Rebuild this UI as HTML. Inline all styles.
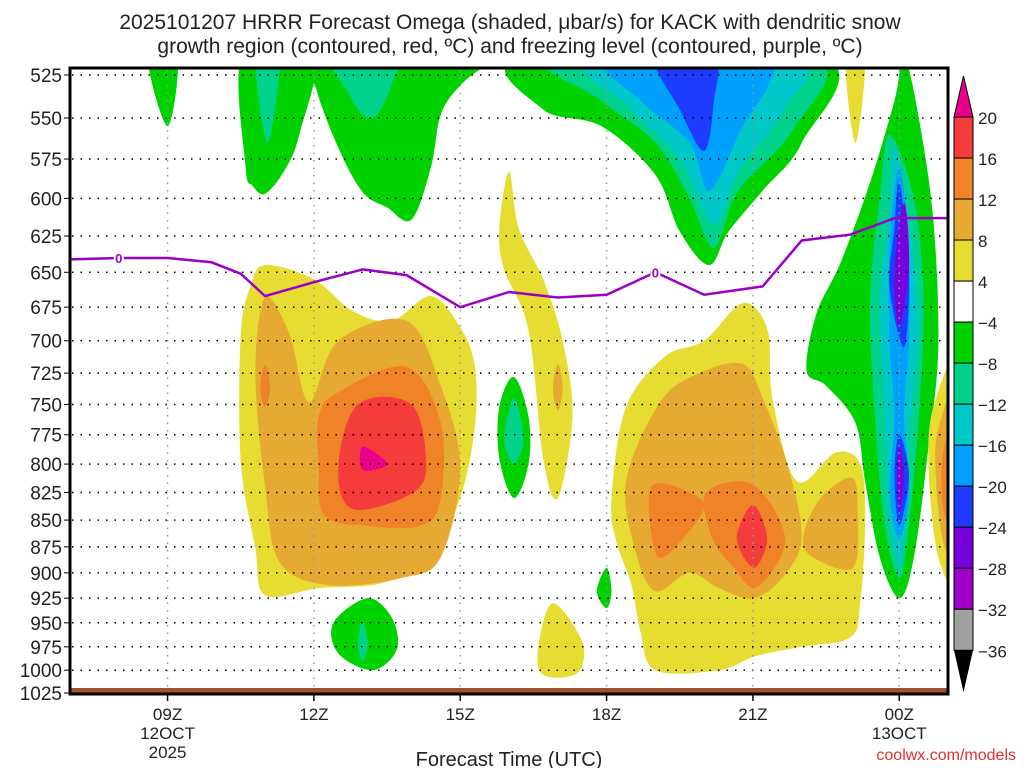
<!DOCTYPE html>
<html><head><meta charset="utf-8"><style>
body{margin:0;background:#fff;}
svg text{font-family:"Liberation Sans",sans-serif;}
</style></head><body>
<svg id="c" width="1024" height="768" xmlns="http://www.w3.org/2000/svg">
<rect width="1024" height="768" fill="#fff"/>
<text x="510" y="29" font-size="21" text-anchor="middle" fill="#222">2025101207 HRRR Forecast Omega (shaded, μbar/s) for KACK with dendritic snow</text>
<text x="510" y="53" font-size="21" text-anchor="middle" fill="#222">growth region (contoured, red, ºC) and freezing level (contoured, purple, ºC)</text>
<defs><clipPath id="pc"><rect x="70" y="68" width="878" height="626"/></clipPath></defs>
<g id="fills" clip-path="url(#pc)"></g>
<g id="grid"></g>
<g id="frz" clip-path="url(#pc)"></g>
<rect x="70" y="688" width="878" height="6" fill="#a0522d"/>
<rect x="70" y="68" width="878" height="626" fill="none" stroke="#000" stroke-width="3"/>
<g id="axes"></g>
<g id="cbar"></g>
<text x="509" y="766" font-size="20" text-anchor="middle" fill="#222">Forecast Time (UTC)</text>
<text x="1016" y="760" font-size="16" text-anchor="end" fill="#e03030">coolwx.com/models</text>
</svg>
<script>
const pLevels=[525,550,575,600,625,650,675,700,725,750,775,800,825,850,875,900,925,950,975,1000,1025];
const xTicks=[9,12,15,18,21,24];
const xTickLabels=[["09Z","12OCT","2025"],["12Z"],["15Z"],["18Z"],["21Z"],["00Z","13OCT"]];
const cbLabels=["20","16","12","8","4","−4","−8","−12","−16","−20","−24","−28","−32","−36"];
const cbColors=["#f53c3c","#f08228","#e6aa32","#e6dc32","#ffffff","#00d200","#00d28c","#00c8c8","#00a0ff","#1e3cff","#7800dc","#a000c8","#a0a0a0"];
const C={y:"#e6dc32",a:"#e6aa32",o:"#f08228",r:"#f53c3c",p:"#e8008a",g:"#00d200",t:"#00d28c",c:"#00c8c8",b:"#00a0ff",d:"#1e3cff",v:"#7800dc",m:"#a000c8"};
const frzHours=[7,8,9,9.9,10.5,11,12,13,13.9,15,16,17,18,19,20,21.2,22,23,23.9,25];
const frzPres=[641,640,640,643,651,667,657,648,652,675,664,668,666,650,666,660,628,624,613,613];
const frzLabelHours=[8,19];
const blobs=[
["g",[[8.6,515],[9.2,515],[9,555]]],
["g",[[10.55,512],[10.6,580],[10.75,592],[11,597],[11.4,582],[11.7,560],[12,512]]],
["g",[[12,512],[12.05,533],[12.5,568],[13,596],[13.5,606],[14,614],[14.4,580],[14.6,548],[15,531],[15.5,520],[16,512]]],
["t",[[10.8,512],[11.3,512],[11.05,565]]],
["t",[[12.3,512],[13.7,512],[13.6,530],[13.3,548],[13.0,548],[12.7,535]]],
["g",[[16.3,515],[16.7,545],[17.9,555],[19,585],[19.5,622],[20.1,645],[20.5,622],[21.2,595],[22,565],[22.4,515]]],
["t",[[16.9,515],[17.9,540],[19,565],[19.7,600],[20.2,633],[20.7,595],[21.8,558],[22.2,515]]],
["c",[[17.6,515],[18.5,545],[19.5,575],[20.2,617],[20.7,583],[21.6,547],[21.9,515]]],
["b",[[18,515],[18.7,540],[19.7,565],[20.1,595],[20.7,560],[21.3,515]]],
["d",[[19,515],[19.5,545],[20,570],[20.2,540],[20.2,515]]],
["y",[[22.9,515],[23.3,515],[23.1,565]]],
["y",[[11,645],[12,655],[12.8,678],[13.6,685],[14.4,667],[15,690],[15.3,720],[15.3,768],[15,830],[14.4,885],[13.4,910],[12.1,915],[11,922],[10.8,877],[10.5,797],[10.5,696],[10.7,660]]],
["a",[[11,668],[11.5,695],[11.9,748],[12.5,700],[13.9,685],[14.6,735],[15,803],[14.6,885],[13.8,905],[12.3,912],[11.3,890],[11,820],[10.8,725]]],
["o",[[12.1,760],[12.5,740],[13.9,720],[14.6,765],[14.6,830],[14.2,855],[13,855],[12.2,845],[12.1,802]]],
["o",[[11,718],[11.1,737],[11,752],[10.9,737]]],
["r",[[12.9,750],[14,750],[14.3,800],[14,826],[12.8,840],[12.5,803]]],
["p",[[13,785],[13.5,800],[13,805]]],
["y",[[16,583],[16.2,620],[16.7,655],[17.1,700],[17.3,760],[17,830],[16.7,795],[16.4,692],[15.9,648],[15.8,620]]],
["a",[[17,718],[17.1,737],[17,755],[16.9,737]]],
["g",[[16.1,728],[16.4,760],[16.4,800],[16.1,830],[15.8,795],[15.8,752]]],
["t",[[16.1,745],[16.3,778],[16.1,800],[15.9,778]]],
["g",[[18,895],[18.1,918],[18,935],[17.8,918]]],
["g",[[13.1,925],[13.6,945],[13.7,978],[13.2,1000],[12.5,982],[12.4,950]]],
["t",[[13,948],[13.1,972],[13,990],[12.9,972]]],
["y",[[16.9,930],[17.5,970],[17.4,1003],[16.7,1005],[16.6,975]]],
["y",[[18.1,830],[18.4,752],[19.2,712],[20,700],[20.8,672],[21.3,692],[21.4,745],[21.9,815],[22.7,790],[23.2,800],[23.3,850],[23.2,930],[23.0,965],[22,975],[21.05,985],[20.3,1000],[19,1000],[18.7,960],[18.5,910],[18.2,870]]],
["a",[[18.4,815],[19.1,748],[19.9,725],[20.8,718],[21.2,745],[21.7,800],[22,866],[21.6,905],[21.0,925],[20.3,915],[19.7,900],[19.0,918],[18.6,880]]],
["a",[[22.03,866],[22.37,831],[23.03,812],[23.15,844],[23.05,895],[22.23,885]]],
["o",[[18.93,819],[19.98,834],[19.55,868],[19.03,883]]],
["o",[[20.04,825],[21,818],[21.66,868],[21.08,914],[20.59,894],[20.16,866]]],
["r",[[21,836],[21.29,867],[21.02,895],[20.67,867]]],
["g",[[22.1,723],[22.3,680],[22.8,643],[23.4,590],[23.9,540],[24.1,515],[24.4,550],[24.7,615],[24.8,705],[24.6,785],[24.3,885],[24,925],[23.6,885],[23.3,815],[23.1,765],[22.5,735]]],
["t",[[23.8,560],[24.3,600],[24.5,670],[24.4,760],[24.2,855],[24,905],[23.7,855],[23.5,760],[23.4,670],[23.6,600]]],
["c",[[23.9,567],[24.2,615],[24.4,688],[24.2,775],[24.1,862],[24,895],[23.8,847],[23.7,760],[23.6,670],[23.8,610]]],
["b",[[24,580],[24.2,632],[24.2,700],[24.1,760],[24.2,825],[24,867],[23.8,825],[23.9,760],[23.8,700],[23.8,632]]],
["d",[[24,590],[24.2,648],[24.1,705],[23.8,660],[23.9,620]]],
["v",[[24.1,603],[24.2,645],[24,690],[23.9,650]]],
["d",[[24,775],[24.2,810],[24,855],[23.9,810]]],
["v",[[24,785],[24.1,810],[24,842],[23.95,810]]],
["y",[[25.2,720],[24.7,752],[24.6,803],[24.8,885],[25.2,900]]],
["a",[[25.2,740],[24.8,770],[24.75,810],[24.9,870],[25.2,880]]],
["o",[[25.2,760],[24.9,790],[24.9,840],[25.2,860]]],
["r",[[25.2,775],[25,805],[25.2,840]]]
];
const NS="http://www.w3.org/2000/svg";
const X=h=>70+(h-7)*48.78;
const Y=p=>75+Math.log(p/525)/Math.log(1025/525)*618;
function mk(t,a,par){const e=document.createElementNS(NS,t);for(const k in a)e.setAttribute(k,a[k]);par.appendChild(e);return e;}
function smooth(pts){const n=pts.length;let d="M"+pts[0][0]+","+pts[0][1];
for(let i=0;i<n;i++){const p0=pts[(i-1+n)%n],p1=pts[i],p2=pts[(i+1)%n],p3=pts[(i+2)%n];
const c1=[p1[0]+(p2[0]-p0[0])/6,p1[1]+(p2[1]-p0[1])/6],c2=[p2[0]-(p3[0]-p1[0])/6,p2[1]-(p3[1]-p1[1])/6];
d+="C"+c1[0].toFixed(1)+","+c1[1].toFixed(1)+" "+c2[0].toFixed(1)+","+c2[1].toFixed(1)+" "+p2[0].toFixed(1)+","+p2[1].toFixed(1);}
return d+"Z";}
const F=document.getElementById("fills");
blobs.forEach((b,i)=>{const pts=b[1].map(q=>[X(q[0]),Y(q[1])]);
const el=mk("path",{d:smooth(pts),fill:C[b[0]]},F);

});
const G=document.getElementById("grid"),A=document.getElementById("axes");
pLevels.forEach(p=>{const y=Y(p);
const l=mk("line",{x1:72,x2:946,y1:y,y2:y,stroke:"#000","stroke-width":1.5,"stroke-dasharray":"1.5 7"},G);


const t=mk("text",{x:62,y:y+7,"font-size":19,"text-anchor":"end",fill:"#222"},A);t.textContent=p;


mk("line",{x1:64,x2:70,y1:y,y2:y,stroke:"#000","stroke-width":1},A);});
xTicks.forEach((h,i)=>{const x=X(h);
const l=mk("line",{x1:x,x2:x,y1:70,y2:692,stroke:"#999","stroke-width":1.5,"stroke-dasharray":"1.5 6"},G);


mk("line",{x1:x,x2:x,y1:694,y2:701,stroke:"#000","stroke-width":1.5},A);
xTickLabels[i].forEach((s,j)=>{const t=mk("text",{x:x,y:720+j*19,"font-size":17,"text-anchor":"middle",fill:"#222"},A);t.textContent=s;

});});
const Z=document.getElementById("frz");
const fl=mk("polyline",{points:frzHours.map((h,i)=>X(h)+","+Y(frzPres[i])).join(" "),fill:"none",stroke:"#9a00c8","stroke-width":2.5},Z);


frzLabelHours.forEach(h=>{let k=0;while(k<frzHours.length-2&&frzHours[k+1]<h)k++;
const f=(h-frzHours[k])/(frzHours[k+1]-frzHours[k]);const p=frzPres[k]+f*(frzPres[k+1]-frzPres[k]);
mk("rect",{x:X(h)-5,y:Y(p)-7,width:10,height:13,fill:"#fff"},Z);
const t=mk("text",{x:X(h),y:Y(p)+5,"font-size":13,"font-weight":"bold","text-anchor":"middle",fill:"#9a00c8"},Z);t.textContent="0";

});
const B=document.getElementById("cbar");const bx=954,bw=19,cbTop=117,step=41.02;
mk("polygon",{points:`${bx},${cbTop} ${bx+bw},${cbTop} ${bx+bw/2},76`,fill:"#e8008a",stroke:"#000","stroke-width":1},B);
cbColors.forEach((c,i)=>{const r=mk("rect",{x:bx,y:cbTop+i*step,width:bw,height:step,fill:c,stroke:"#000","stroke-width":1},B);

});
const cbBot=cbTop+cbColors.length*step;
mk("polygon",{points:`${bx},${cbBot} ${bx+bw},${cbBot} ${bx+bw/2},${cbBot+42}`,fill:"#000"},B);
cbLabels.forEach((s,i)=>{const t=mk("text",{x:978,y:cbTop+i*step+7,"font-size":17,fill:"#222"},B);t.textContent=s;

});
</script>
</body></html>
